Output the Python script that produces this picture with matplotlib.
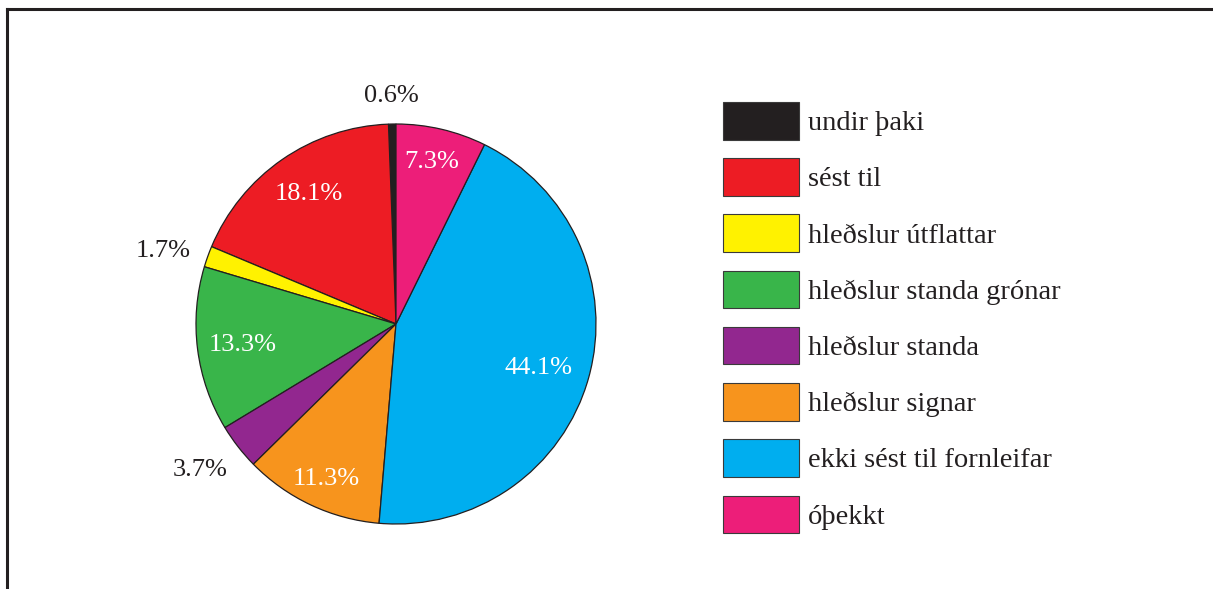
import matplotlib
matplotlib.use("Agg")
import matplotlib.pyplot as plt
from matplotlib.lines import Line2D
import matplotlib.transforms as mtransforms
import numpy as np

# share of each category (percent), listed counterclockwise from the top
categories = ["undir þaki", "sést til", "hleðslur útflattar", "hleðslur standa grónar",
              "hleðslur standa", "hleðslur signar", "ekki sést til fornleifar", "óþekkt"]
shares = [0.6, 18.1, 1.7, 13.3, 3.7, 11.3, 44.1, 7.3]
labels = ["0.6%", "18.1%", "1.7%", "13.3%", "3.7%", "11.3%", "44.1%", "7.3%"]

# styling
colors = ["#231f20", "#ed1c24", "#fff200", "#39b54a", "#92278f", "#f7941d", "#00aeef", "#ed1e79"]
label_dist = [1.16, 0.80, 1.226, 0.77, 1.21, 0.83, 0.74, 0.85]
label_turn = [0.0, -1.5, 1.5, -1.0, -1.9, 0.5, 0.0, 1.0]   # degrees off the wedge middle
label_color = ["#231f20", "white", "#231f20", "white", "#231f20", "white", "white", "white"]

plt.rcParams["font.family"] = ["Liberation Serif", "DejaVu Serif"]

W, H = 1213, 589
fig = plt.figure(figsize=(W / 100, H / 100), dpi=100)

# pie axes: centre (396, 324), radius 200 px
ax = fig.add_axes([196 / W, 65 / H, 400 / W, 400 / H])
wedges, _ = ax.pie(shares, colors=colors, startangle=90, counterclock=True,
                   radius=1.0, wedgeprops=dict(edgecolor="#231f20", linewidth=0.9))
ax.set_xlim(-1, 1)
ax.set_ylim(-1, 1)
ax.set_aspect("equal")
ax.axis("off")

# percentage labels placed along each wedge's middle angle, nudged down a little
nudge = mtransforms.offset_copy(ax.transData, fig=fig, x=0, y=-4, units="dots")
for w, lab, d, turn, c in zip(wedges, labels, label_dist, label_turn, label_color):
    ang = np.deg2rad((w.theta1 + w.theta2) / 2 + turn)
    ax.text(d * np.cos(ang), d * np.sin(ang), lab, ha="center", va="center",
            fontsize=19, color=c, clip_on=False, transform=nudge)

# legend on the right
fs = 20.5
fs_px = fs * 100 / 72
handles = [plt.Rectangle((0, 0), 1, 1, facecolor=c, edgecolor="#3a3a3a", linewidth=0.8)
           for c in colors]
leg = fig.legend(handles, categories, loc="upper left",
                 bbox_to_anchor=(723 / W, 1 - 102 / H), frameon=False, fontsize=fs,
                 handlelength=76 / fs_px, handleheight=47 / fs_px,
                 handletextpad=9 / fs_px, labelspacing=18.7 / fs_px,
                 borderpad=0, borderaxespad=0)
for t in leg.get_texts():
    t.set_color("#231f20")

# outer frame (top and left edges)
fig.add_artist(Line2D([7 / W, 1], [1 - 9 / H, 1 - 9 / H], color="#231f20", linewidth=2.2,
                      transform=fig.transFigure))
fig.add_artist(Line2D([7 / W, 7 / W], [0, 1 - 9 / H], color="#231f20", linewidth=2.2,
                      transform=fig.transFigure))

fig.savefig("out.png", dpi=100, facecolor="white")
